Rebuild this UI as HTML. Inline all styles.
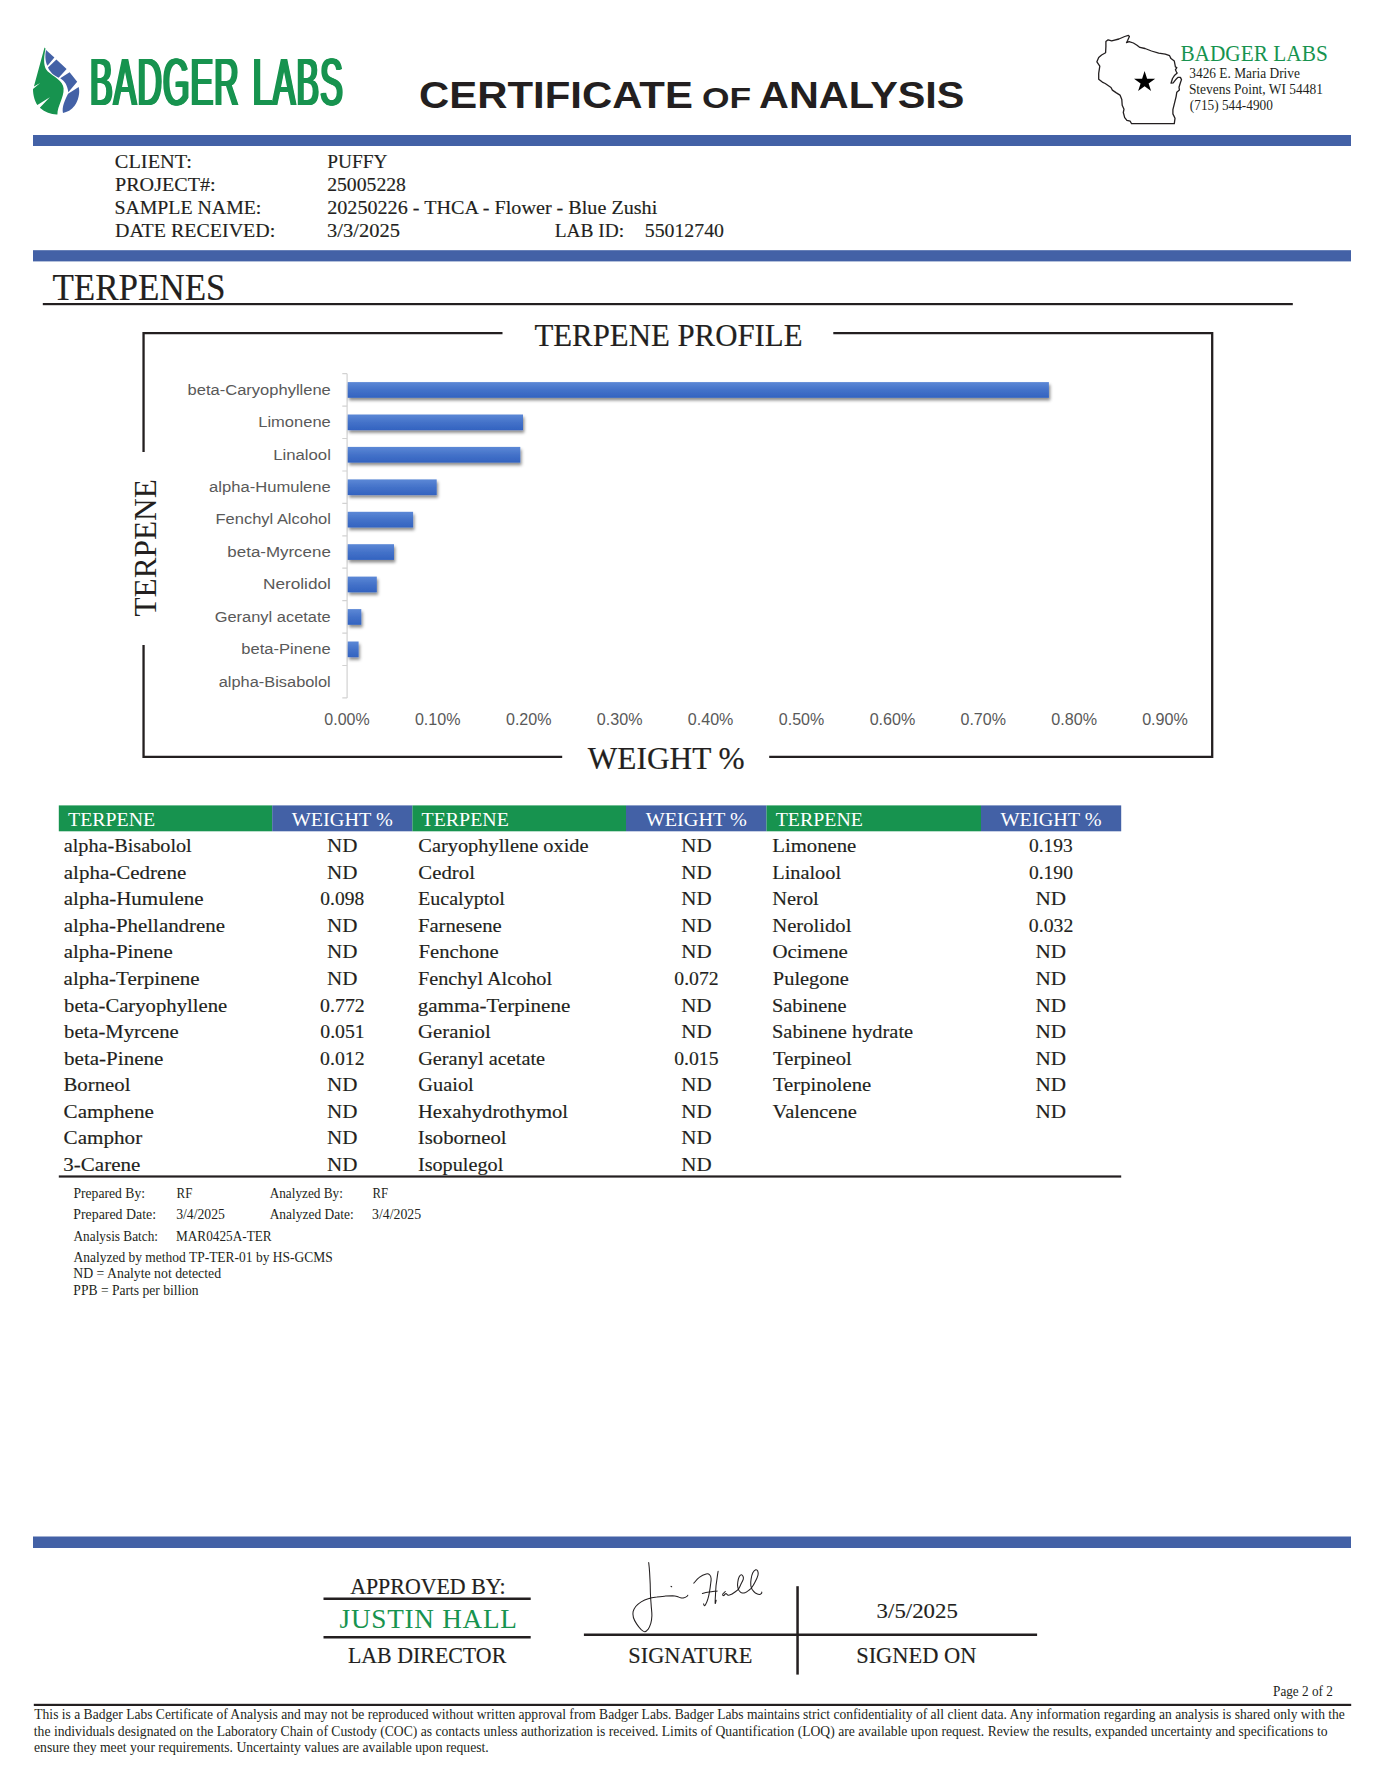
<!DOCTYPE html>
<html lang="en">
<head>
<meta charset="utf-8">
<title>Badger Labs - Certificate of Analysis - Terpenes</title>
<style>
html,body{margin:0;padding:0;background:#fff;}
body{width:1382px;height:1790px;position:relative;overflow:hidden;font-family:'Liberation Serif',serif;color:#231F20;}
#page{position:absolute;left:0;top:0;width:1382px;height:1790px;display:block;}
#page text{white-space:pre;}
#brand{position:absolute;left:89.9px;top:41.8px;margin:0;font-family:'Liberation Sans',sans-serif;font-weight:400;font-size:67.4px;line-height:80px;height:80px;color:#17934F;white-space:nowrap;transform-origin:0 0;transform:scaleX(0.505);letter-spacing:2px;word-spacing:5px;text-shadow:2.8px 0 0 #17934F,-2.8px 0 0 #17934F,1.4px 0 0 #17934F,-1.4px 0 0 #17934F;}
</style>
</head>
<body>
<svg id="page" width="1382" height="1790" viewBox="0 0 1382 1790" font-family="'Liberation Serif', serif" fill="#231F20">
<defs>
<linearGradient id="bar" x1="0" y1="0" x2="0" y2="1"><stop offset="0" stop-color="#5C88D6"/><stop offset="0.5" stop-color="#4472C9"/><stop offset="1" stop-color="#3363C0"/></linearGradient>
<filter id="sh" x="-5%" y="-5%" width="110%" height="115%" filterUnits="objectBoundingBox"><feDropShadow dx="1.3" dy="2.6" stdDeviation="1.7" flood-color="#000" flood-opacity="0.45"/></filter>
</defs>
<g id="leaf">
<path fill="#17934F" d="M44.5 47.6 L33.9 86.6 L40.2 83.1 L33.0 89.0 C32.9 95.2 35.1 101.8 37.4 105.1 L49.8 97.2 L39.8 107.8 C45.3 112.4 51.3 114.7 57.4 114.5 C57.4 105.8 64.0 98.2 63.6 88.6 C63.2 80.5 53.4 76.5 47.8 71.4 C43.7 67.4 43.2 60.3 45.5 48.4 Z"/>
<path fill="#4361A6" d="M46.0 49.9 L54.4 57.5 L47.5 65.8 C45.0 61.3 45.0 55.2 46.0 49.9 Z"/>
<path fill="#4361A6" d="M56.4 59.5 L66.6 69.1 L58.7 77.7 C54.4 75.5 50.3 72.9 48.0 67.4 Z"/>
<path fill="#4361A6" d="M69.6 72.2 L77.2 81.8 L68.3 92.2 C67.5 85.6 65.0 81.0 60.2 78.2 Z"/>
<path fill="#4361A6" d="M78.7 87.1 C80.2 93.2 78.2 100.8 74.6 105.8 C71.6 109.9 67.0 112.4 63.0 112.9 C61.5 107.4 65.0 99.8 68.1 93.7 Z"/>
</g>
<g id="wisconsin"><path d="M1105.9 41.6 L1108.1 39.8 L1111.7 40.9 L1118.9 39.0 L1124.7 36.5 L1128.4 35.4 L1129.4 36.5 L1127.6 40.5 L1126.5 42.7 L1129.1 41.6 L1133.4 43.0 L1137.0 45.2 L1139.9 47.4 L1145.0 48.5 L1151.5 51.0 L1158.7 53.2 L1165.3 54.2 L1169.6 55.7 L1171.0 58.6 L1174.3 61.1 L1175.0 64.7 L1175.4 66.9 L1176.8 67.6 L1175.4 69.8 L1176.5 72.0 L1177.2 73.1 L1174.7 75.2 L1172.5 78.5 L1171.0 83.2 L1173.2 82.8 L1176.1 79.2 L1177.9 77.4 L1180.4 77.4 L1181.5 79.6 L1180.4 82.8 L1179.0 87.2 L1179.4 90.1 L1176.8 92.2 L1176.1 96.6 L1174.7 102.4 L1172.9 109.6 L1172.9 113.9 L1175.0 118.3 L1174.3 123.7 L1131.6 123.7 L1130.2 121.2 L1126.9 120.4 L1124.7 117.6 L1123.3 112.5 L1124.0 109.2 L1122.2 105.3 L1121.8 99.5 L1120.0 95.1 L1116.0 92.6 L1112.4 90.1 L1111.0 87.5 L1105.2 83.5 L1102.3 82.1 L1098.7 79.2 L1098.7 73.4 L1099.8 66.2 L1096.9 61.8 L1098.7 57.5 L1101.6 55.0 L1105.6 52.8 L1105.9 46.6 Z" fill="none" stroke="#231F20" stroke-width="1.3" stroke-linejoin="round"/><polygon points="1144.6,71.0 1147.1,78.7 1155.2,78.7 1148.6,83.4 1151.1,91.1 1144.6,86.3 1138.1,91.1 1140.6,83.4 1134.0,78.7 1142.1,78.7" fill="#000"/></g>
<g id="rules">
<rect x="33.0" y="135.0" width="1318.0" height="11.0" fill="#4361A6"/>
<rect x="33.0" y="250.2" width="1318.0" height="11.2" fill="#4361A6"/>
<rect x="33.0" y="1536.5" width="1318.0" height="11.5" fill="#4361A6"/>
<rect x="42.8" y="303.0" width="1250.0" height="2.2" fill="#231F20"/>
<rect x="33.8" y="1703.8" width="1317.4" height="2.2" fill="#231F20"/>
</g>
<g id="header">
<text x="419.07" y="107.8" font-size="37.2" font-family="'Liberation Sans', sans-serif" textLength="273.83" lengthAdjust="spacingAndGlyphs" font-weight="700">CERTIFICATE</text>
<text x="702.03" y="107.8" font-size="29.8" font-family="'Liberation Sans', sans-serif" textLength="49.17" lengthAdjust="spacingAndGlyphs" font-weight="700">OF</text>
<text x="759.08" y="107.8" font-size="37.2" font-family="'Liberation Sans', sans-serif" textLength="205.31" lengthAdjust="spacingAndGlyphs" font-weight="700">ANALYSIS</text>
<text x="1180.39" y="60.7" font-size="22.4" fill="#17934F" textLength="147.38" lengthAdjust="spacingAndGlyphs">BADGER LABS</text>
<text x="1189.25" y="77.9" font-size="13.8" textLength="110.71" lengthAdjust="spacingAndGlyphs">3426 E. Maria Drive</text>
<text x="1188.88" y="94.3" font-size="13.8" textLength="133.99" lengthAdjust="spacingAndGlyphs">Stevens Point, WI 54481</text>
<text x="1189.82" y="110.1" font-size="13.8" textLength="83.00" lengthAdjust="spacingAndGlyphs">(715) 544-4900</text>
</g>
<g id="client">
<text x="114.89" y="167.7" font-size="19.6" stroke="#231F20" stroke-width="0.15" textLength="76.97" lengthAdjust="spacingAndGlyphs">CLIENT:</text>
<text x="114.97" y="190.5" font-size="19.6" stroke="#231F20" stroke-width="0.15" textLength="100.69" lengthAdjust="spacingAndGlyphs">PROJECT#:</text>
<text x="114.40" y="213.6" font-size="19.6" stroke="#231F20" stroke-width="0.15" textLength="146.98" lengthAdjust="spacingAndGlyphs">SAMPLE NAME:</text>
<text x="114.98" y="236.5" font-size="19.6" stroke="#231F20" stroke-width="0.15" textLength="160.30" lengthAdjust="spacingAndGlyphs">DATE RECEIVED:</text>
<text x="327.28" y="167.7" font-size="19.6" stroke="#231F20" stroke-width="0.15" textLength="60.23" lengthAdjust="spacingAndGlyphs">PUFFY</text>
<text x="327.20" y="190.5" font-size="19.6" stroke="#231F20" stroke-width="0.15" textLength="78.73" lengthAdjust="spacingAndGlyphs">25005228</text>
<text x="327.23" y="213.6" font-size="19.6" stroke="#231F20" stroke-width="0.15" textLength="330.04" lengthAdjust="spacingAndGlyphs">20250226 - THCA - Flower - Blue Zushi</text>
<text x="327.06" y="236.5" font-size="19.6" stroke="#231F20" stroke-width="0.15" textLength="72.83" lengthAdjust="spacingAndGlyphs">3/3/2025</text>
<text x="554.66" y="236.5" font-size="19.6" stroke="#231F20" stroke-width="0.15" textLength="69.46" lengthAdjust="spacingAndGlyphs">LAB ID:</text>
<text x="644.72" y="236.5" font-size="19.6" stroke="#231F20" stroke-width="0.15" textLength="79.28" lengthAdjust="spacingAndGlyphs">55012740</text>
</g>
<text x="52.40" y="299.9" font-size="37.0" stroke="#231F20" stroke-width="0.2" textLength="173.20" lengthAdjust="spacingAndGlyphs">TERPENES</text>
<g id="chart">
<g stroke="#231F20" stroke-width="2.3" fill="none" stroke-linecap="butt">
<path d="M502.5 333.1 H143.55 V452"/>
<path d="M143.55 645 V756.9 H562.2"/>
<path d="M833.3 333.1 H1212.2 V756.9 H769.2"/>
</g>
<text x="534.41" y="345.6" font-size="32.3" stroke="#231F20" stroke-width="0.2" textLength="268.11" lengthAdjust="spacingAndGlyphs">TERPENE PROFILE</text>
<text x="587.77" y="768.9" font-size="32.3" stroke="#231F20" stroke-width="0.2" textLength="156.88" lengthAdjust="spacingAndGlyphs">WEIGHT %</text>
<text transform="translate(156.2 616.6) rotate(-90)" font-size="32.3" fill="#231F20" textLength="137.4" lengthAdjust="spacingAndGlyphs">TERPENE</text>
<g stroke="#D2D2D2" stroke-width="1.2" fill="none">
<path d="M347.1 373.7 V697.9"/>
<path d="M342.3 373.7 H347.1M342.3 406.1 H347.1M342.3 438.5 H347.1M342.3 471.0 H347.1M342.3 503.4 H347.1M342.3 535.8 H347.1M342.3 568.2 H347.1M342.3 600.6 H347.1M342.3 633.1 H347.1M342.3 665.5 H347.1M342.3 697.9 H347.1"/>
</g>
<g filter="url(#sh)">
<rect x="347.7" y="382.1" width="701.2" height="15.7" fill="url(#bar)"/>
<rect x="347.7" y="414.5" width="175.3" height="15.7" fill="url(#bar)"/>
<rect x="347.7" y="446.9" width="172.6" height="15.7" fill="url(#bar)"/>
<rect x="347.7" y="479.4" width="89.0" height="15.7" fill="url(#bar)"/>
<rect x="347.7" y="511.8" width="65.4" height="15.7" fill="url(#bar)"/>
<rect x="347.7" y="544.2" width="46.3" height="15.7" fill="url(#bar)"/>
<rect x="347.7" y="576.6" width="29.1" height="15.7" fill="url(#bar)"/>
<rect x="347.7" y="609.1" width="13.6" height="15.7" fill="url(#bar)"/>
<rect x="347.7" y="641.5" width="10.9" height="15.7" fill="url(#bar)"/>
</g>
<text x="187.60" y="394.7" font-size="15.5" font-family="'Liberation Sans', sans-serif" fill="#595959" textLength="143.18" lengthAdjust="spacingAndGlyphs">beta-Caryophyllene</text>
<text x="258.27" y="427.1" font-size="15.5" font-family="'Liberation Sans', sans-serif" fill="#595959" textLength="72.47" lengthAdjust="spacingAndGlyphs">Limonene</text>
<text x="273.17" y="459.6" font-size="15.5" font-family="'Liberation Sans', sans-serif" fill="#595959" textLength="57.74" lengthAdjust="spacingAndGlyphs">Linalool</text>
<text x="209.09" y="492.0" font-size="15.5" font-family="'Liberation Sans', sans-serif" fill="#595959" textLength="121.72" lengthAdjust="spacingAndGlyphs">alpha-Humulene</text>
<text x="215.56" y="524.4" font-size="15.5" font-family="'Liberation Sans', sans-serif" fill="#595959" textLength="115.36" lengthAdjust="spacingAndGlyphs">Fenchyl Alcohol</text>
<text x="227.38" y="556.8" font-size="15.5" font-family="'Liberation Sans', sans-serif" fill="#595959" textLength="103.44" lengthAdjust="spacingAndGlyphs">beta-Myrcene</text>
<text x="262.94" y="589.2" font-size="15.5" font-family="'Liberation Sans', sans-serif" fill="#595959" textLength="67.98" lengthAdjust="spacingAndGlyphs">Nerolidol</text>
<text x="214.71" y="621.6" font-size="15.5" font-family="'Liberation Sans', sans-serif" fill="#595959" textLength="115.97" lengthAdjust="spacingAndGlyphs">Geranyl acetate</text>
<text x="241.36" y="654.1" font-size="15.5" font-family="'Liberation Sans', sans-serif" fill="#595959" textLength="89.22" lengthAdjust="spacingAndGlyphs">beta-Pinene</text>
<text x="218.78" y="686.5" font-size="15.5" font-family="'Liberation Sans', sans-serif" fill="#595959" textLength="111.99" lengthAdjust="spacingAndGlyphs">alpha-Bisabolol</text>
<text x="324.32" y="724.8" font-size="16.2" font-family="'Liberation Sans', sans-serif" fill="#595959" textLength="45.36" lengthAdjust="spacingAndGlyphs">0.00%</text>
<text x="414.92" y="724.8" font-size="16.2" font-family="'Liberation Sans', sans-serif" fill="#595959" textLength="45.65" lengthAdjust="spacingAndGlyphs">0.10%</text>
<text x="505.94" y="724.8" font-size="16.2" font-family="'Liberation Sans', sans-serif" fill="#595959" textLength="45.58" lengthAdjust="spacingAndGlyphs">0.20%</text>
<text x="596.84" y="724.8" font-size="16.2" font-family="'Liberation Sans', sans-serif" fill="#595959" textLength="45.67" lengthAdjust="spacingAndGlyphs">0.30%</text>
<text x="687.84" y="724.8" font-size="16.2" font-family="'Liberation Sans', sans-serif" fill="#595959" textLength="45.53" lengthAdjust="spacingAndGlyphs">0.40%</text>
<text x="778.81" y="724.8" font-size="16.2" font-family="'Liberation Sans', sans-serif" fill="#595959" textLength="45.42" lengthAdjust="spacingAndGlyphs">0.50%</text>
<text x="869.63" y="724.8" font-size="16.2" font-family="'Liberation Sans', sans-serif" fill="#595959" textLength="45.62" lengthAdjust="spacingAndGlyphs">0.60%</text>
<text x="960.49" y="724.8" font-size="16.2" font-family="'Liberation Sans', sans-serif" fill="#595959" textLength="45.51" lengthAdjust="spacingAndGlyphs">0.70%</text>
<text x="1051.30" y="724.8" font-size="16.2" font-family="'Liberation Sans', sans-serif" fill="#595959" textLength="45.75" lengthAdjust="spacingAndGlyphs">0.80%</text>
<text x="1142.13" y="724.8" font-size="16.2" font-family="'Liberation Sans', sans-serif" fill="#595959" textLength="45.76" lengthAdjust="spacingAndGlyphs">0.90%</text>
</g>
<g id="table">
<rect x="58.8" y="805.4" width="213.4" height="25.9" fill="#17934F"/>
<rect x="272.2" y="805.4" width="140.2" height="25.9" fill="#4361A6"/>
<text x="68.00" y="825.9" font-size="19.7" fill="#fff" textLength="87.20" lengthAdjust="spacingAndGlyphs">TERPENE</text>
<text x="291.70" y="825.9" font-size="19.7" fill="#fff" textLength="101.20" lengthAdjust="spacingAndGlyphs">WEIGHT %</text>
<rect x="412.4" y="805.4" width="213.6" height="25.9" fill="#17934F"/>
<rect x="626.0" y="805.4" width="140.5" height="25.9" fill="#4361A6"/>
<text x="421.60" y="825.9" font-size="19.7" fill="#fff" textLength="87.20" lengthAdjust="spacingAndGlyphs">TERPENE</text>
<text x="645.65" y="825.9" font-size="19.7" fill="#fff" textLength="101.20" lengthAdjust="spacingAndGlyphs">WEIGHT %</text>
<rect x="766.5" y="805.4" width="214.5" height="25.9" fill="#17934F"/>
<rect x="981.0" y="805.4" width="140.2" height="25.9" fill="#4361A6"/>
<text x="775.70" y="825.9" font-size="19.7" fill="#fff" textLength="87.20" lengthAdjust="spacingAndGlyphs">TERPENE</text>
<text x="1000.50" y="825.9" font-size="19.7" fill="#fff" textLength="101.20" lengthAdjust="spacingAndGlyphs">WEIGHT %</text>
<rect x="58.8" y="1175.4" width="1062.4" height="2.2" fill="#231F20"/>
<text x="63.71" y="852.1" font-size="19.4" stroke="#231F20" stroke-width="0.15" textLength="128.05" lengthAdjust="spacingAndGlyphs">alpha-Bisabolol</text>
<text x="326.96" y="852.1" font-size="19.4" stroke="#231F20" stroke-width="0.15" textLength="30.42" lengthAdjust="spacingAndGlyphs">ND</text>
<text x="63.77" y="878.7" font-size="19.4" stroke="#231F20" stroke-width="0.15" textLength="122.48" lengthAdjust="spacingAndGlyphs">alpha-Cedrene</text>
<text x="326.96" y="878.7" font-size="19.4" stroke="#231F20" stroke-width="0.15" textLength="30.42" lengthAdjust="spacingAndGlyphs">ND</text>
<text x="63.78" y="905.2" font-size="19.4" stroke="#231F20" stroke-width="0.15" textLength="139.86" lengthAdjust="spacingAndGlyphs">alpha-Humulene</text>
<text x="320.36" y="905.2" font-size="19.4" stroke="#231F20" stroke-width="0.15" textLength="43.80" lengthAdjust="spacingAndGlyphs">0.098</text>
<text x="63.79" y="931.8" font-size="19.4" stroke="#231F20" stroke-width="0.15" textLength="161.20" lengthAdjust="spacingAndGlyphs">alpha-Phellandrene</text>
<text x="326.96" y="931.8" font-size="19.4" stroke="#231F20" stroke-width="0.15" textLength="30.42" lengthAdjust="spacingAndGlyphs">ND</text>
<text x="63.77" y="958.3" font-size="19.4" stroke="#231F20" stroke-width="0.15" textLength="108.98" lengthAdjust="spacingAndGlyphs">alpha-Pinene</text>
<text x="326.96" y="958.3" font-size="19.4" stroke="#231F20" stroke-width="0.15" textLength="30.42" lengthAdjust="spacingAndGlyphs">ND</text>
<text x="63.63" y="984.9" font-size="19.4" stroke="#231F20" stroke-width="0.15" textLength="136.02" lengthAdjust="spacingAndGlyphs">alpha-Terpinene</text>
<text x="326.96" y="984.9" font-size="19.4" stroke="#231F20" stroke-width="0.15" textLength="30.42" lengthAdjust="spacingAndGlyphs">ND</text>
<text x="64.05" y="1011.5" font-size="19.4" stroke="#231F20" stroke-width="0.15" textLength="163.15" lengthAdjust="spacingAndGlyphs">beta-Caryophyllene</text>
<text x="320.10" y="1011.5" font-size="19.4" stroke="#231F20" stroke-width="0.15" textLength="44.68" lengthAdjust="spacingAndGlyphs">0.772</text>
<text x="64.07" y="1038.0" font-size="19.4" stroke="#231F20" stroke-width="0.15" textLength="114.74" lengthAdjust="spacingAndGlyphs">beta-Myrcene</text>
<text x="320.33" y="1038.0" font-size="19.4" stroke="#231F20" stroke-width="0.15" textLength="44.40" lengthAdjust="spacingAndGlyphs">0.051</text>
<text x="64.05" y="1064.6" font-size="19.4" stroke="#231F20" stroke-width="0.15" textLength="99.37" lengthAdjust="spacingAndGlyphs">beta-Pinene</text>
<text x="320.13" y="1064.6" font-size="19.4" stroke="#231F20" stroke-width="0.15" textLength="44.46" lengthAdjust="spacingAndGlyphs">0.012</text>
<text x="63.49" y="1091.1" font-size="19.4" stroke="#231F20" stroke-width="0.15" textLength="66.95" lengthAdjust="spacingAndGlyphs">Borneol</text>
<text x="326.96" y="1091.1" font-size="19.4" stroke="#231F20" stroke-width="0.15" textLength="30.42" lengthAdjust="spacingAndGlyphs">ND</text>
<text x="63.59" y="1117.7" font-size="19.4" stroke="#231F20" stroke-width="0.15" textLength="90.28" lengthAdjust="spacingAndGlyphs">Camphene</text>
<text x="326.96" y="1117.7" font-size="19.4" stroke="#231F20" stroke-width="0.15" textLength="30.42" lengthAdjust="spacingAndGlyphs">ND</text>
<text x="63.54" y="1144.3" font-size="19.4" stroke="#231F20" stroke-width="0.15" textLength="78.66" lengthAdjust="spacingAndGlyphs">Camphor</text>
<text x="326.96" y="1144.3" font-size="19.4" stroke="#231F20" stroke-width="0.15" textLength="30.42" lengthAdjust="spacingAndGlyphs">ND</text>
<text x="63.39" y="1170.8" font-size="19.4" stroke="#231F20" stroke-width="0.15" textLength="76.94" lengthAdjust="spacingAndGlyphs">3-Carene</text>
<text x="326.96" y="1170.8" font-size="19.4" stroke="#231F20" stroke-width="0.15" textLength="30.42" lengthAdjust="spacingAndGlyphs">ND</text>
<text x="418.31" y="852.1" font-size="19.4" stroke="#231F20" stroke-width="0.15" textLength="170.28" lengthAdjust="spacingAndGlyphs">Caryophyllene oxide</text>
<text x="681.28" y="852.1" font-size="19.4" stroke="#231F20" stroke-width="0.15" textLength="30.34" lengthAdjust="spacingAndGlyphs">ND</text>
<text x="418.39" y="878.7" font-size="19.4" stroke="#231F20" stroke-width="0.15" textLength="56.53" lengthAdjust="spacingAndGlyphs">Cedrol</text>
<text x="681.28" y="878.7" font-size="19.4" stroke="#231F20" stroke-width="0.15" textLength="30.34" lengthAdjust="spacingAndGlyphs">ND</text>
<text x="417.99" y="905.2" font-size="19.4" stroke="#231F20" stroke-width="0.15" textLength="86.91" lengthAdjust="spacingAndGlyphs">Eucalyptol</text>
<text x="681.28" y="905.2" font-size="19.4" stroke="#231F20" stroke-width="0.15" textLength="30.34" lengthAdjust="spacingAndGlyphs">ND</text>
<text x="417.98" y="931.8" font-size="19.4" stroke="#231F20" stroke-width="0.15" textLength="83.74" lengthAdjust="spacingAndGlyphs">Farnesene</text>
<text x="681.28" y="931.8" font-size="19.4" stroke="#231F20" stroke-width="0.15" textLength="30.34" lengthAdjust="spacingAndGlyphs">ND</text>
<text x="418.57" y="958.3" font-size="19.4" stroke="#231F20" stroke-width="0.15" textLength="80.14" lengthAdjust="spacingAndGlyphs">Fenchone</text>
<text x="681.28" y="958.3" font-size="19.4" stroke="#231F20" stroke-width="0.15" textLength="30.34" lengthAdjust="spacingAndGlyphs">ND</text>
<text x="417.96" y="984.9" font-size="19.4" stroke="#231F20" stroke-width="0.15" textLength="134.12" lengthAdjust="spacingAndGlyphs">Fenchyl Alcohol</text>
<text x="674.32" y="984.9" font-size="19.4" stroke="#231F20" stroke-width="0.15" textLength="44.32" lengthAdjust="spacingAndGlyphs">0.072</text>
<text x="417.76" y="1011.5" font-size="19.4" stroke="#231F20" stroke-width="0.15" textLength="152.47" lengthAdjust="spacingAndGlyphs">gamma-Terpinene</text>
<text x="681.18" y="1011.5" font-size="19.4" stroke="#231F20" stroke-width="0.15" textLength="30.39" lengthAdjust="spacingAndGlyphs">ND</text>
<text x="418.05" y="1038.0" font-size="19.4" stroke="#231F20" stroke-width="0.15" textLength="72.71" lengthAdjust="spacingAndGlyphs">Geraniol</text>
<text x="681.28" y="1038.0" font-size="19.4" stroke="#231F20" stroke-width="0.15" textLength="30.34" lengthAdjust="spacingAndGlyphs">ND</text>
<text x="418.15" y="1064.6" font-size="19.4" stroke="#231F20" stroke-width="0.15" textLength="126.98" lengthAdjust="spacingAndGlyphs">Geranyl acetate</text>
<text x="674.16" y="1064.6" font-size="19.4" stroke="#231F20" stroke-width="0.15" textLength="44.34" lengthAdjust="spacingAndGlyphs">0.015</text>
<text x="418.34" y="1091.1" font-size="19.4" stroke="#231F20" stroke-width="0.15" textLength="55.38" lengthAdjust="spacingAndGlyphs">Guaiol</text>
<text x="681.28" y="1091.1" font-size="19.4" stroke="#231F20" stroke-width="0.15" textLength="30.34" lengthAdjust="spacingAndGlyphs">ND</text>
<text x="417.95" y="1117.7" font-size="19.4" stroke="#231F20" stroke-width="0.15" textLength="150.12" lengthAdjust="spacingAndGlyphs">Hexahydrothymol</text>
<text x="681.28" y="1117.7" font-size="19.4" stroke="#231F20" stroke-width="0.15" textLength="30.34" lengthAdjust="spacingAndGlyphs">ND</text>
<text x="417.81" y="1144.3" font-size="19.4" stroke="#231F20" stroke-width="0.15" textLength="88.73" lengthAdjust="spacingAndGlyphs">Isoborneol</text>
<text x="681.28" y="1144.3" font-size="19.4" stroke="#231F20" stroke-width="0.15" textLength="30.34" lengthAdjust="spacingAndGlyphs">ND</text>
<text x="417.92" y="1170.8" font-size="19.4" stroke="#231F20" stroke-width="0.15" textLength="85.38" lengthAdjust="spacingAndGlyphs">Isopulegol</text>
<text x="681.28" y="1170.8" font-size="19.4" stroke="#231F20" stroke-width="0.15" textLength="30.34" lengthAdjust="spacingAndGlyphs">ND</text>
<text x="772.26" y="852.1" font-size="19.4" stroke="#231F20" stroke-width="0.15" textLength="84.05" lengthAdjust="spacingAndGlyphs">Limonene</text>
<text x="1028.90" y="852.1" font-size="19.4" stroke="#231F20" stroke-width="0.15" textLength="43.83" lengthAdjust="spacingAndGlyphs">0.193</text>
<text x="772.27" y="878.7" font-size="19.4" stroke="#231F20" stroke-width="0.15" textLength="68.77" lengthAdjust="spacingAndGlyphs">Linalool</text>
<text x="1028.90" y="878.7" font-size="19.4" stroke="#231F20" stroke-width="0.15" textLength="44.03" lengthAdjust="spacingAndGlyphs">0.190</text>
<text x="772.24" y="905.2" font-size="19.4" stroke="#231F20" stroke-width="0.15" textLength="46.58" lengthAdjust="spacingAndGlyphs">Nerol</text>
<text x="1035.41" y="905.2" font-size="19.4" stroke="#231F20" stroke-width="0.15" textLength="30.60" lengthAdjust="spacingAndGlyphs">ND</text>
<text x="772.24" y="931.8" font-size="19.4" stroke="#231F20" stroke-width="0.15" textLength="79.23" lengthAdjust="spacingAndGlyphs">Nerolidol</text>
<text x="1028.87" y="931.8" font-size="19.4" stroke="#231F20" stroke-width="0.15" textLength="44.42" lengthAdjust="spacingAndGlyphs">0.032</text>
<text x="772.50" y="958.3" font-size="19.4" stroke="#231F20" stroke-width="0.15" textLength="75.34" lengthAdjust="spacingAndGlyphs">Ocimene</text>
<text x="1035.41" y="958.3" font-size="19.4" stroke="#231F20" stroke-width="0.15" textLength="30.60" lengthAdjust="spacingAndGlyphs">ND</text>
<text x="772.85" y="984.9" font-size="19.4" stroke="#231F20" stroke-width="0.15" textLength="75.89" lengthAdjust="spacingAndGlyphs">Pulegone</text>
<text x="1035.41" y="984.9" font-size="19.4" stroke="#231F20" stroke-width="0.15" textLength="30.60" lengthAdjust="spacingAndGlyphs">ND</text>
<text x="772.01" y="1011.5" font-size="19.4" stroke="#231F20" stroke-width="0.15" textLength="74.47" lengthAdjust="spacingAndGlyphs">Sabinene</text>
<text x="1035.41" y="1011.5" font-size="19.4" stroke="#231F20" stroke-width="0.15" textLength="30.53" lengthAdjust="spacingAndGlyphs">ND</text>
<text x="772.00" y="1038.0" font-size="19.4" stroke="#231F20" stroke-width="0.15" textLength="141.16" lengthAdjust="spacingAndGlyphs">Sabinene hydrate</text>
<text x="1035.41" y="1038.0" font-size="19.4" stroke="#231F20" stroke-width="0.15" textLength="30.60" lengthAdjust="spacingAndGlyphs">ND</text>
<text x="773.14" y="1064.6" font-size="19.4" stroke="#231F20" stroke-width="0.15" textLength="78.55" lengthAdjust="spacingAndGlyphs">Terpineol</text>
<text x="1035.41" y="1064.6" font-size="19.4" stroke="#231F20" stroke-width="0.15" textLength="30.60" lengthAdjust="spacingAndGlyphs">ND</text>
<text x="772.94" y="1091.1" font-size="19.4" stroke="#231F20" stroke-width="0.15" textLength="98.28" lengthAdjust="spacingAndGlyphs">Terpinolene</text>
<text x="1035.41" y="1091.1" font-size="19.4" stroke="#231F20" stroke-width="0.15" textLength="30.60" lengthAdjust="spacingAndGlyphs">ND</text>
<text x="772.63" y="1117.7" font-size="19.4" stroke="#231F20" stroke-width="0.15" textLength="84.17" lengthAdjust="spacingAndGlyphs">Valencene</text>
<text x="1035.41" y="1117.7" font-size="19.4" stroke="#231F20" stroke-width="0.15" textLength="30.60" lengthAdjust="spacingAndGlyphs">ND</text>
</g>
<g id="notes">
<text x="73.40" y="1197.7" font-size="13.6" textLength="71.62" lengthAdjust="spacingAndGlyphs">Prepared By:</text>
<text x="176.56" y="1197.7" font-size="13.6" textLength="15.82" lengthAdjust="spacingAndGlyphs">RF</text>
<text x="269.68" y="1197.7" font-size="13.6" textLength="73.15" lengthAdjust="spacingAndGlyphs">Analyzed By:</text>
<text x="372.40" y="1197.7" font-size="13.6" textLength="15.64" lengthAdjust="spacingAndGlyphs">RF</text>
<text x="73.30" y="1218.7" font-size="13.6" textLength="82.72" lengthAdjust="spacingAndGlyphs">Prepared Date:</text>
<text x="176.15" y="1218.7" font-size="13.6" textLength="48.77" lengthAdjust="spacingAndGlyphs">3/4/2025</text>
<text x="269.64" y="1218.7" font-size="13.6" textLength="84.11" lengthAdjust="spacingAndGlyphs">Analyzed Date:</text>
<text x="372.08" y="1218.7" font-size="13.6" textLength="49.11" lengthAdjust="spacingAndGlyphs">3/4/2025</text>
<text x="73.52" y="1240.6" font-size="13.6" textLength="84.46" lengthAdjust="spacingAndGlyphs">Analysis Batch:</text>
<text x="175.99" y="1240.6" font-size="13.6" textLength="95.70" lengthAdjust="spacingAndGlyphs">MAR0425A-TER</text>
<text x="73.50" y="1262.3" font-size="13.6" textLength="259.19" lengthAdjust="spacingAndGlyphs">Analyzed by method TP-TER-01 by HS-GCMS</text>
<text x="73.26" y="1278.0" font-size="13.6" textLength="147.82" lengthAdjust="spacingAndGlyphs">ND = Analyte not detected</text>
<text x="73.37" y="1294.5" font-size="13.6" textLength="125.27" lengthAdjust="spacingAndGlyphs">PPB = Parts per billion</text>
</g>
<g id="approval">
<text x="350.14" y="1593.7" font-size="22.1" stroke="#231F20" stroke-width="0.15" textLength="155.51" lengthAdjust="spacingAndGlyphs">APPROVED BY:</text>
<rect x="323.5" y="1597.5" width="207.2" height="2.5" fill="#231F20"/>
<text x="339.57" y="1628.1" font-size="27.2" fill="#17934F" textLength="177.29" lengthAdjust="spacing">JUSTIN HALL</text>
<rect x="323.5" y="1636.0" width="207.2" height="2.5" fill="#231F20"/>
<text x="347.92" y="1662.9" font-size="22.1" stroke="#231F20" stroke-width="0.15" textLength="158.35" lengthAdjust="spacingAndGlyphs">LAB DIRECTOR</text>
<rect x="583.9" y="1633.5" width="453.2" height="2.5" fill="#231F20"/>
<rect x="796.3" y="1586.2" width="2.5" height="88.4" fill="#231F20"/>
<text x="628.38" y="1662.9" font-size="22.1" stroke="#231F20" stroke-width="0.15" textLength="124.00" lengthAdjust="spacingAndGlyphs">SIGNATURE</text>
<text x="856.19" y="1662.9" font-size="22.1" stroke="#231F20" stroke-width="0.15" textLength="120.16" lengthAdjust="spacingAndGlyphs">SIGNED ON</text>
<text x="876.64" y="1618.4" font-size="21.6" stroke="#231F20" stroke-width="0.15" textLength="81.18" lengthAdjust="spacingAndGlyphs">3/5/2025</text>
<g fill="none" stroke="#231F20" stroke-width="1.05" stroke-linecap="round" stroke-linejoin="round">
<path d="M648.7 1562.5 C648.9 1564.2 649.4 1568.8 649.6 1572.4 C649.8 1575.9 650.0 1580.1 650.2 1583.9 C650.3 1587.8 650.3 1591.7 650.5 1595.5 C650.7 1599.4 651.1 1603.7 651.3 1607.1 C651.6 1610.5 652.0 1613.1 651.9 1615.8 C651.8 1618.5 651.4 1621.1 650.8 1623.3 C650.1 1625.5 649.2 1627.7 648.2 1629.1 C647.1 1630.5 645.8 1631.6 644.7 1631.7 C643.5 1631.8 642.6 1631.0 641.2 1629.7 C639.9 1628.4 637.9 1625.9 636.6 1623.9 C635.3 1621.9 634.0 1619.5 633.4 1617.5 C632.8 1615.5 632.7 1613.6 633.1 1611.7 C633.5 1609.9 634.4 1608.2 635.7 1606.5 C637.1 1604.9 639.1 1603.2 641.2 1601.9 C643.3 1600.6 645.5 1599.5 648.2 1598.7 C650.8 1597.9 653.9 1597.4 656.8 1597.0 C659.7 1596.5 662.9 1596.3 665.5 1596.1 C668.1 1595.9 670.5 1595.8 672.5 1595.8 C674.4 1595.9 675.7 1596.1 677.1 1596.4 C678.4 1596.7 679.4 1597.6 680.6 1597.8 C681.7 1598.1 683.0 1598.1 684.0 1597.8 C685.1 1597.6 686.3 1596.8 686.9 1596.4 C687.6 1596.0 687.7 1595.4 687.8 1595.2"/>
<path d="M671.0 1586.3 C671.1 1586.4 671.6 1586.7 671.7 1586.8"/>
<path d="M693.8 1583.2 C694.7 1582.2 697.2 1578.9 699.3 1577.4 C701.3 1575.8 704.5 1574.3 706.2 1573.9 C707.9 1573.5 708.9 1574.0 709.7 1574.8 C710.5 1575.5 711.0 1576.8 711.1 1578.5 C711.3 1580.2 710.8 1582.6 710.5 1584.9 C710.3 1587.2 709.8 1590.1 709.4 1592.4 C709.0 1594.7 708.6 1596.8 707.9 1598.8 C707.3 1600.8 706.2 1603.4 705.6 1604.6 C705.1 1605.7 704.8 1605.8 704.5 1605.7 C704.1 1605.6 703.7 1604.2 703.6 1603.9"/>
<path d="M718.1 1571.3 C717.9 1572.3 717.5 1574.9 717.2 1577.4 C716.9 1579.8 716.3 1583.2 716.0 1586.0 C715.8 1588.9 715.6 1591.8 715.5 1594.7 C715.3 1597.6 715.1 1602.5 715.2 1603.4 C715.3 1604.3 716.0 1600.8 716.2 1600.2"/>
<path d="M702.4 1593.5 C703.6 1593.2 706.6 1592.5 709.1 1592.1 C711.6 1591.7 715.9 1591.2 717.2 1591.0"/>
<path d="M725.3 1591.5 C724.9 1592.0 723.0 1593.5 722.7 1594.2 C722.4 1594.8 723.0 1595.7 723.6 1595.6 C724.1 1595.5 725.1 1593.6 725.9 1593.6 C726.7 1593.5 727.2 1595.2 728.2 1595.3 C729.2 1595.4 730.4 1594.8 731.7 1594.2 C732.9 1593.5 734.6 1592.4 735.7 1591.5 C736.9 1590.7 737.8 1590.1 738.6 1588.9 C739.5 1587.7 740.2 1586.0 740.9 1584.3 C741.7 1582.7 742.9 1580.5 743.3 1579.1 C743.6 1577.8 743.3 1576.9 743.0 1576.2 C742.6 1575.5 741.9 1574.7 741.2 1574.8 C740.6 1574.9 739.8 1575.6 739.2 1576.8 C738.6 1578.0 738.0 1580.3 737.8 1582.0 C737.5 1583.7 737.5 1585.8 737.8 1587.2 C738.0 1588.7 738.5 1589.7 739.2 1590.7 C739.9 1591.6 741.0 1592.7 742.1 1593.0 C743.2 1593.3 744.4 1592.9 745.6 1592.4 C746.7 1591.9 748.0 1590.9 749.0 1590.1 C750.1 1589.3 750.7 1589.0 751.6 1587.8 C752.6 1586.5 753.8 1584.7 754.8 1582.6 C755.9 1580.5 757.5 1577.0 758.0 1575.1 C758.5 1573.1 758.1 1571.9 757.7 1571.0 C757.3 1570.1 756.5 1569.6 755.7 1569.8 C754.9 1570.1 753.6 1571.2 752.8 1572.7 C752.0 1574.3 751.4 1577.0 751.1 1579.1 C750.7 1581.2 750.6 1583.7 750.8 1585.5 C751.0 1587.2 751.5 1588.3 752.2 1589.5 C753.0 1590.8 754.3 1592.2 755.4 1593.0 C756.6 1593.8 758.2 1594.4 759.2 1594.4 C760.2 1594.5 761.1 1593.7 761.5 1593.3 C761.9 1592.9 761.7 1592.3 761.8 1592.1"/>
</g>
</g>
<g id="footer">
<text x="1273.05" y="1696.4" font-size="13.6" textLength="59.81" lengthAdjust="spacingAndGlyphs">Page 2 of 2</text>
<text x="34.32" y="1719.0" font-size="13.6" textLength="1310.57" lengthAdjust="spacingAndGlyphs">This is a Badger Labs Certificate of Analysis and may not be reproduced without written approval from Badger Labs. Badger Labs maintains strict confidentiality of all client data. Any information regarding an analysis is shared only with the</text>
<text x="33.83" y="1735.7" font-size="13.6" textLength="1293.67" lengthAdjust="spacingAndGlyphs">the individuals designated on the Laboratory Chain of Custody (COC) as contacts unless authorization is received. Limits of Quantification (LOQ) are available upon request. Review the results, expanded uncertainty and specifications to</text>
<text x="34.05" y="1751.9" font-size="13.6" textLength="454.69" lengthAdjust="spacingAndGlyphs">ensure they meet your requirements. Uncertainty values are available upon request.</text>
</g>
</svg>
<h1 id="brand">BADGER LABS</h1>
</body>
</html>
